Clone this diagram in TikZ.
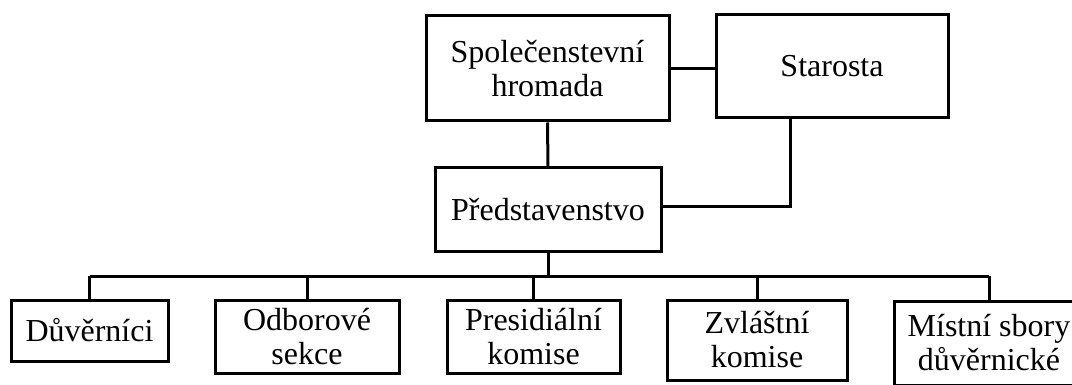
\documentclass[tikz,border=0pt]{standalone}
\usepackage{fontspec}
\setmainfont{Liberation Serif}
\begin{document}
\begin{tikzpicture}[x=1pt,y=-1pt,
  box/.style={draw, line width=3pt, inner sep=0pt, align=center,
    font=\fontsize{32}{34}\selectfont},
  link/.style={line width=3pt}]
\clip (0,0) rectangle (1072,385);
\fill[white] (0,0) rectangle (1072,385);
% top level
\node[box, minimum width=243pt, minimum height=105pt] (spol) at (547.5,68.5) {Společenstevní\\hromada};
\node[box, minimum width=232pt, minimum height=103pt] (star) at (832,66.5) {Starosta};
\node[box, minimum width=226pt, minimum height=83pt] (pred) at (548,209.5) {Představenstvo};
% bottom level
\node[box, minimum width=157pt, minimum height=61pt] (duv) at (89.5,330.5) {Důvěrníci};
\node[box, minimum width=184pt, minimum height=73pt] (odb) at (307,336.5) {Odborové\\sekce};
\node[box, minimum width=173pt, minimum height=73pt] (pres) at (533.5,336.5) {Presidiální\\komise};
\node[box, minimum width=180pt, minimum height=80pt] (zvl) at (757,340) {Zvláštní\\komise};
\node[box, minimum width=190pt, minimum height=84pt] (mist) at (989,343) {Místní sbory\\důvěrnické};
% connectors
\coordinate (bus) at (548,276);
\coordinate (busL) at (89.5,276);
\coordinate (busR) at (989,276);
\draw[link] (spol.east) -- (spol.east -| star.west);
\draw[link] (spol.south) -- (pred.north);
\draw[link] ([yshift=2.5pt]pred.east) -| ([xshift=-42pt]star.south);
\draw[link] (pred.south) -- (bus);
\draw[link] (busL) -- (busR);
\draw[link] (duv.north) -- (duv.north |- bus);
\draw[link] (odb.north) -- (odb.north |- bus);
\draw[link] (pres.north) -- (pres.north |- bus);
\draw[link] (zvl.north) -- (zvl.north |- bus);
\draw[link] (mist.north) -- (mist.north |- bus);
\end{tikzpicture}
\end{document}
